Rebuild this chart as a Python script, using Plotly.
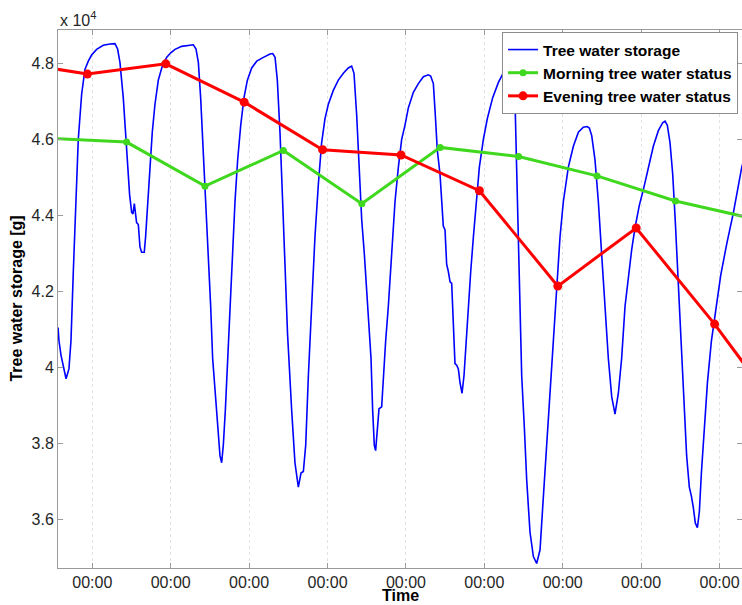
import pandas as pd
import plotly.graph_objects as go

BASE = pd.Timestamp("2012-06-01 00:00")

# Tree water storage (x 10^4 g), time in days from first midnight tick
blue_days = [-0.437, -0.425, -0.400, -0.357, -0.335, -0.298, -0.272, -0.242, -0.213, -0.179,
             -0.136, -0.094, -0.051, -0.009, 0.055, 0.140, 0.225, 0.289, 0.323, 0.353,
             0.395, 0.425, 0.451, 0.476, 0.502, 0.519, 0.536, 0.553, 0.565, 0.587,
             0.608, 0.629, 0.663, 0.680, 0.706, 0.736, 0.765, 0.799, 0.842, 0.893,
             0.948, 1.000, 1.055, 1.140, 1.225, 1.289, 1.323, 1.353, 1.382, 1.416,
             1.451, 1.480, 1.510, 1.535, 1.565, 1.595, 1.629, 1.650, 1.671, 1.697,
             1.727, 1.756, 1.786, 1.820, 1.854, 1.893, 1.935, 1.978, 2.033, 2.097,
             2.182, 2.267, 2.301, 2.331, 2.360, 2.394, 2.428, 2.458, 2.490, 2.543,
             2.585, 2.628, 2.662, 2.692, 2.722, 2.756, 2.798, 2.840, 2.883, 2.925,
             2.968, 3.010, 3.074, 3.138, 3.202, 3.265, 3.308, 3.338, 3.372, 3.402,
             3.436, 3.470, 3.500, 3.529, 3.555, 3.576, 3.597, 3.614, 3.640, 3.657,
             3.691, 3.712, 3.742, 3.776, 3.819, 3.861, 3.904, 3.946, 3.988, 4.031,
             4.095, 4.159, 4.223, 4.286, 4.316, 4.350, 4.375, 4.400, 4.435, 4.460,
             4.477, 4.499, 4.520, 4.541, 4.563, 4.584, 4.605, 4.626, 4.648, 4.669,
             4.690, 4.716, 4.741, 4.767, 4.797, 4.827, 4.861, 4.895, 4.937, 4.988,
             5.039, 5.107, 5.180, 5.250, 5.310, 5.345, 5.375, 5.392, 5.413, 5.434,
             5.455, 5.477, 5.511, 5.541, 5.583, 5.626, 5.668, 5.711, 5.753, 5.795,
             5.838, 5.881, 5.923, 5.966, 6.008, 6.072, 6.136, 6.200, 6.263, 6.310,
             6.340, 6.370, 6.412, 6.455, 6.497, 6.540, 6.582, 6.625, 6.667, 6.710,
             6.752, 6.795, 6.837, 6.880, 6.922, 6.978, 7.029, 7.092, 7.156, 7.220,
             7.275, 7.305, 7.335, 7.369, 7.403, 7.437, 7.462, 7.488, 7.518, 7.547,
             7.581, 7.615, 7.641, 7.667, 7.692, 7.718, 7.743, 7.769, 7.803, 7.846,
             7.897, 7.956, 8.016, 8.093, 8.178, 8.284, 8.300]
blue_vals = [4.105, 4.070, 4.033, 3.987, 3.970, 3.996, 4.070, 4.253, 4.436, 4.600,
             4.719, 4.784, 4.806, 4.822, 4.837, 4.848, 4.851, 4.852, 4.838, 4.802,
             4.710, 4.619, 4.527, 4.454, 4.408, 4.404, 4.431, 4.395, 4.381, 4.376,
             4.317, 4.303, 4.303, 4.344, 4.436, 4.527, 4.619, 4.692, 4.756, 4.793,
             4.816, 4.828, 4.837, 4.845, 4.848, 4.849, 4.838, 4.802, 4.710, 4.573,
             4.436, 4.298, 4.161, 4.024, 3.941, 3.868, 3.767, 3.749, 3.795, 3.887,
             4.024, 4.161, 4.298, 4.436, 4.546, 4.637, 4.710, 4.756, 4.788, 4.806,
             4.816, 4.825, 4.826, 4.816, 4.756, 4.619, 4.436, 4.253, 4.090, 3.887,
             3.749, 3.685, 3.722, 3.726, 3.795, 3.978, 4.161, 4.344, 4.481, 4.591,
             4.655, 4.692, 4.729, 4.756, 4.774, 4.788, 4.793, 4.774, 4.665, 4.527,
             4.390, 4.298, 4.207, 4.115, 4.024, 3.887, 3.795, 3.781, 3.841, 3.891,
             3.896, 3.978, 4.070, 4.161, 4.298, 4.436, 4.527, 4.600, 4.637, 4.683,
             4.724, 4.747, 4.765, 4.770, 4.767, 4.747, 4.665, 4.573, 4.509, 4.436,
             4.372, 4.362, 4.271, 4.253, 4.225, 4.221, 4.115, 4.010, 4.006, 3.996,
             3.960, 3.932, 3.978, 4.070, 4.161, 4.253, 4.344, 4.436, 4.527, 4.600,
             4.655, 4.710, 4.750, 4.778, 4.790, 4.775, 4.740, 4.700, 4.527, 4.344,
             4.161, 3.978, 3.841, 3.703, 3.566, 3.502, 3.484, 3.520, 3.658, 3.795,
             3.932, 4.070, 4.207, 4.344, 4.436, 4.527, 4.582, 4.619, 4.632, 4.634,
             4.630, 4.610, 4.546, 4.436, 4.298, 4.161, 4.024, 3.923, 3.877, 3.932,
             4.024, 4.161, 4.240, 4.310, 4.367, 4.427, 4.468, 4.527, 4.582, 4.623,
             4.644, 4.648, 4.637, 4.591, 4.509, 4.381, 4.271, 4.161, 4.024, 3.887,
             3.767, 3.685, 3.662, 3.630, 3.590, 3.578, 3.620, 3.722, 3.841, 3.960,
             4.070, 4.161, 4.243, 4.326, 4.408, 4.527, 4.538]

# Morning tree water status (10:30 each day)
morning_days = [-0.5625, 0.4375, 1.4375, 2.4375, 3.4375, 4.4375, 5.4375, 6.4375, 7.4375, 8.4375]
morning_vals = [4.603, 4.593, 4.477, 4.571, 4.431, 4.579, 4.555, 4.504, 4.438, 4.391]

# Evening tree water status (22:30 each day)
evening_days = [-1.0625, -0.0625, 0.9375, 1.9375, 2.9375, 3.9375, 4.9375, 5.9375, 6.9375, 7.9375, 8.9375]
evening_vals = [4.805, 4.772, 4.799, 4.698, 4.573, 4.559, 4.465, 4.214, 4.367, 4.114, 3.835]

y_ticks = [3.6, 3.8, 4.0, 4.2, 4.4, 4.6, 4.8]
y_ticklabels = ["3.6", "3.8", "4", "4.2", "4.4", "4.6", "4.8"]


def to_time(days):
    return [BASE + pd.to_timedelta(d, unit="D") for d in days]


FONT = "Arial, Liberation Sans, Helvetica, sans-serif"
AXIS_GRAY = "#9a9a9a"
TEXT = "#262626"

fig = go.Figure()
fig.add_trace(go.Scatter(x=to_time(blue_days), y=blue_vals, mode="lines",
                         name="Tree water storage",
                         line=dict(color="#0000ff", width=1.6)))
fig.add_trace(go.Scatter(x=to_time(morning_days), y=morning_vals, mode="lines+markers",
                         name="Morning tree water status",
                         line=dict(color="#3fd81e", width=3),
                         marker=dict(color="#3fd81e", size=7)))
fig.add_trace(go.Scatter(x=to_time(evening_days), y=evening_vals, mode="lines+markers",
                         name="Evening tree water status",
                         line=dict(color="#ff0000", width=3),
                         marker=dict(color="#ff0000", size=9)))
# helper trace so the right-hand tick axis is drawn
fig.add_trace(go.Scatter(x=[], y=[], yaxis="y2", showlegend=False, hoverinfo="skip"))

x0 = BASE + pd.to_timedelta(-0.4375, unit="D")
x1 = BASE + pd.to_timedelta(8.287, unit="D")
yr = [3.472, 4.888]

fig.update_layout(
    width=742, height=605,
    margin=dict(l=58, r=0, t=30, b=37),
    paper_bgcolor="white", plot_bgcolor="white",
    font=dict(family=FONT, size=16, color=TEXT),
    showlegend=True,
    legend=dict(x=0.9942, y=0.9963, xanchor="right", yanchor="top",
                bgcolor="white", bordercolor="#8c8c8c", borderwidth=1,
                font=dict(family=FONT, size=15.5, color="#000000", weight="bold"),
                tracegroupgap=0, itemwidth=30),
    xaxis=dict(range=[x0, x1], type="date", tick0=BASE, dtick=86400000,
               tickformat="%H:%M", ticks="inside", ticklen=5, tickcolor=AXIS_GRAY,
               showline=True, linecolor=AXIS_GRAY, linewidth=1, mirror="ticks",
               showgrid=True, gridcolor="#e2e2e2", griddash="dot", gridwidth=1,
               zeroline=False, tickfont=dict(size=16, color=TEXT)),
    yaxis=dict(range=yr, tickvals=y_ticks, ticktext=y_ticklabels,
               ticks="inside", ticklen=5, tickcolor=AXIS_GRAY,
               showline=True, linecolor=AXIS_GRAY, linewidth=1, mirror=False,
               showgrid=False, zeroline=False, tickfont=dict(size=16, color=TEXT)),
    yaxis2=dict(range=yr, overlaying="y", side="right", tickvals=y_ticks,
                showticklabels=False, ticks="inside", ticklen=5, tickcolor=AXIS_GRAY,
                showline=False, showgrid=False, zeroline=False),
)

fig.add_annotation(text="<b>Tree water storage [g]</b>", textangle=-90,
                   xref="paper", yref="paper", x=-0.062, y=0.5,
                   xanchor="center", yanchor="middle", showarrow=False,
                   font=dict(size=16, color="#000000", family=FONT))
fig.add_annotation(text="<b>Time</b>", xref="paper", yref="paper",
                   x=0.5, y=-0.051, xanchor="center", yanchor="middle",
                   showarrow=False, font=dict(size=16, color="#000000", family=FONT))
fig.add_annotation(text="x 10<sup>4</sup>", xref="paper", yref="paper",
                   x=0.0, y=1.0, xanchor="left", yanchor="bottom", yshift=-1,
                   showarrow=False, font=dict(size=16, color=TEXT, family=FONT))

fig.write_html("out.html", config={"displayModeBar": False, "staticPlot": True},
               post_script="document.body.style.margin='0';document.body.style.overflow='hidden';")
